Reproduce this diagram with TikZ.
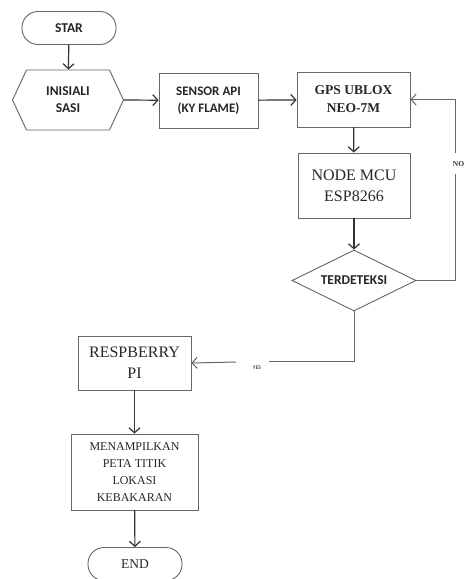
\documentclass[tikz,border=0pt]{standalone}
\usepackage{fontspec}
\setmainfont{Liberation Serif}
\newfontfamily\calibri{Carlito}
\usetikzlibrary{arrows.meta,shapes.geometric,shapes.symbols}

\begin{document}
\begin{tikzpicture}[x=1pt,y=-1pt,>={Straight Barb[length=5pt,width=11pt]},
  box/.style={draw=black!60,line width=0.9pt,align=center,inner sep=0pt,text=black!85},
  startstop/.style={box,rectangle,rounded corners=16pt,minimum width=94pt,minimum height=33pt},
  proc/.style={box,rectangle},
  hexa/.style={box,signal,signal to=west and east,signal pointer angle=130,minimum width=111pt,minimum height=60pt},
  dec/.style={box,diamond,aspect=2,minimum width=124pt,minimum height=61pt},
  flow/.style={draw=black!80,line width=1.2pt},
  line/.style={draw=black!60,line width=1pt}]
\useasboundingbox (0,0) rectangle (465,579);
% boxes
\node[startstop,font=\calibri\bfseries\fontsize{13.5}{15}\selectfont] (star) at (69,28) {STAR};
\node[hexa,font=\calibri\bfseries\fontsize{13.5}{17}\selectfont] (init) at (68,100) {INISIALI\\SASI};
\node[proc,minimum width=99pt,minimum height=55pt,font=\calibri\bfseries\fontsize{13}{17}\selectfont] (sensor) at (208.5,100.5) {SENSOR API\\(KY FLAME)};
\node[proc,minimum width=113pt,minimum height=55pt,font=\bfseries\fontsize{13.5}{18}\selectfont] (gps) at (353.5,99.5) {GPS UBLOX\\NEO-7M};
\node[proc,minimum width=112pt,minimum height=65pt,font=\fontsize{16}{21}\selectfont] (mcu) at (354,185.5) {NODE MCU\\ESP8266};
\node[dec,font=\calibri\bfseries\fontsize{13.5}{15}\selectfont] (cek) at (354,280.5) {TERDETEKSI};
\node[proc,minimum width=113pt,minimum height=54pt,font=\fontsize{16}{21}\selectfont] (rpi) at (134.5,363) {RESPBERRY\\PI};
\node[proc,minimum width=127pt,minimum height=76pt,font=\fontsize{12}{17}\selectfont] (peta) at (134.5,472) {MENAMPILKAN\\PETA TITIK\\LOKASI\\KEBAKARAN};
\node[startstop,font=\fontsize{13.5}{15}\selectfont] (end) at (135,564) {END};
% connectors
\draw[flow,->] (star) -- (init);
\draw[flow,->] (init.east) -- (sensor);
\draw[flow,->] (sensor) -- (gps);
\draw[flow,->] (gps) -- (mcu);
\draw[flow,->] (mcu) -- (cek);
\draw[flow,->] (rpi) -- (peta);
\draw[flow,->] (peta) -- (end);
% NO branch
\coordinate (noB) at (455,174);
\coordinate (noT) at (455,153);
\draw[line] (cek.east) -| (noB);
\draw[line,->] (noT) |- (gps.east);
\node[font=\fontsize{7.5}{8}\selectfont\bfseries,text=black!80] (no) at (458.5,164) {NO};
% YES branch
\coordinate (yesR) at (269,361);
\coordinate (yesL) at (236,362);
\draw[line] (cek.south) |- (yesR);
\draw[line,->] (yesL) -- (rpi.east);
\node[font=\calibri\bfseries\fontsize{5.5}{6}\selectfont,text=black!70] (yes) at (257,368) {YES};
\end{tikzpicture}
\end{document}
